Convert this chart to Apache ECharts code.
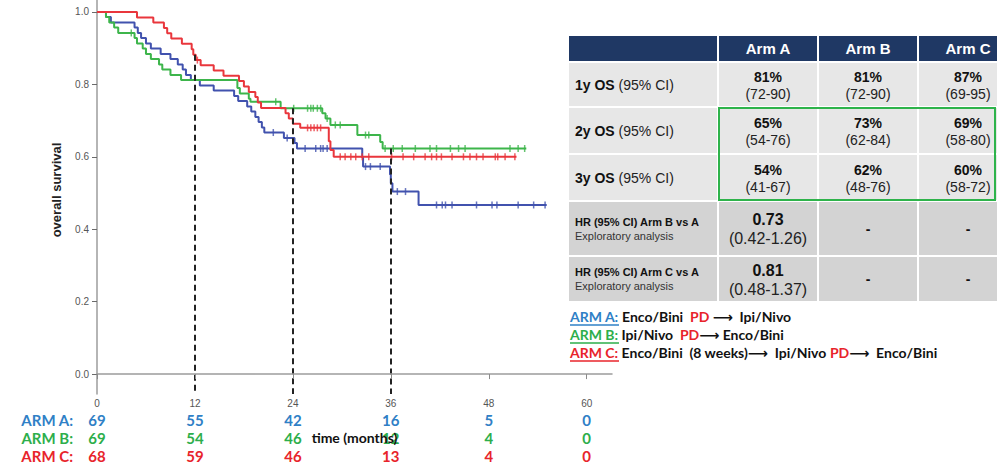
<!DOCTYPE html>
<html>
<head>
<meta charset="utf-8">
<script src="https://cdn.jsdelivr.net/npm/echarts@6/dist/echarts.min.js"></script>
<style>
  html, body { margin: 0; padding: 0; background: #ffffff; }
  #chart { width: 997px; height: 464px; }
</style>
</head>
<body>
<div id="chart"></div>
<script>
// Kaplan-Meier steps per arm: [month, overall survival after the step]
const armA = [[0,1],[1.1,0.986],[1.7,0.971],[4.6,0.957],[5.0,0.942],[5.4,0.928],[6.0,0.913],[6.6,0.899],[7.8,0.884],[9.0,0.870],[9.9,0.855],[10.5,0.841],[10.9,0.826],[11.5,0.812],[12.6,0.797],[14.3,0.783],[16.8,0.768],[17.3,0.754],[18.4,0.739],[18.9,0.725],[19.4,0.710],[19.8,0.696],[20.2,0.681],[20.5,0.667],[22.9,0.652],[24.2,0.638],[24.5,0.623],[32.5,0.598],[32.6,0.573],[35.9,0.551],[36.0,0.527],[36.2,0.504],[39.4,0.467],[55.1,0.467]];
const armB = [[0,1],[1.1,0.986],[1.5,0.971],[2.1,0.957],[2.6,0.942],[4.6,0.928],[4.9,0.913],[5.6,0.899],[6.0,0.884],[6.6,0.870],[7.6,0.855],[8.0,0.841],[9.0,0.826],[10.3,0.812],[17.2,0.790],[17.5,0.775],[18.6,0.760],[18.8,0.752],[22.5,0.734],[27.6,0.720],[28.0,0.706],[28.6,0.688],[31.9,0.660],[34.7,0.641],[35.0,0.623],[52.6,0.623]];
const armC = [[0,1],[4.9,0.985],[6.9,0.971],[8.2,0.956],[8.6,0.941],[9.1,0.927],[10.4,0.912],[11.6,0.897],[11.8,0.882],[12.1,0.867],[12.7,0.853],[14.3,0.838],[15.5,0.824],[17.4,0.809],[18.0,0.794],[18.6,0.779],[19.4,0.765],[19.7,0.750],[20.1,0.735],[23.1,0.720],[23.5,0.706],[24.0,0.691],[24.9,0.680],[28.4,0.643],[28.6,0.619],[29.0,0.600],[51.4,0.600]];

// Censoring times (months)
const censorA = [21.6,23.3,25.5,26.8,27.4,27.7,28.2,32.9,33.5,34.7,36.8,37.8,41.6,42.3,42.7,43.5,46.5,48.4,49.0,51.6,53.5,54.9];
const censorB = [4.2,21.9,24.1,25.8,26.2,26.5,27.0,27.4,28.2,29.2,29.8,32.9,33.3,35.3,36.3,37.4,39.0,40.8,41.6,43.3,44.3,45.1,50.6,51.6,52.4];
const censorC = [12.3,25.8,26.2,26.6,27.0,27.4,29.8,30.4,31.1,31.7,32.5,33.3,36.1,37.5,38.8,40.2,41.0,41.6,42.2,43.5,44.9,45.7,46.5,47.3,48.8,49.1,50.0,51.2];

// Landmark times marked with dashed lines
const landmarks = [12, 24, 36];

// Axis ticks
const timeTicks = [0, 12, 24, 36, 48, 60];
const survTicks = [0, 0.2, 0.4, 0.6, 0.8, 1.0];

// Numbers at risk
const riskLabels = ['ARM A:', 'ARM B:', 'ARM C:'];
const riskA = [69, 55, 42, 16, 5, 0];
const riskB = [69, 54, 46, 12, 4, 0];
const riskC = [68, 59, 46, 13, 4, 0];

// Summary table
const tableCols = ['Arm A', 'Arm B', 'Arm C'];
const osRowLabels = ['1y OS', '2y OS', '3y OS'];
const osValues = [[81, 81, 87], [65, 73, 69], [54, 62, 60]];
const osCI = [['72-90', '72-90', '69-95'], ['54-76', '62-84', '58-80'], ['41-67', '48-76', '58-72']];
const hrRowLabels = ['HR (95% CI) Arm B vs A', 'HR (95% CI) Arm C vs A'];
const hrSubLabel = 'Exploratory analysis';
const hrValues = ['0.73', '0.81'];
const hrCI = ['0.42-1.26', '0.48-1.37'];

// Treatment sequences: [arm, segments]
const schedules = [
  ['ARM A:', [['Enco/Bini  ', 'k'], ['PD', 'p'], [' \u27F6  Ipi/Nivo', 'k']]],
  ['ARM B:', [['Ipi/Nivo  ', 'k'], ['PD', 'p'], ['\u27F6 Enco/Bini', 'k']]],
  ['ARM C:', [['Enco/Bini  (8 weeks)\u27F6  Ipi/Nivo ', 'k'], ['PD', 'p'], ['\u27F6  Enco/Bini', 'k']]]
];

// ---------- styling ----------
const curveColors = ['#4152AE', '#3DB54B', '#E9363C'];
const textColors = ['#2F80C6', '#2DAE4B', '#E8242B'];
const Y_MIN = -0.055, Y_MAX = 1.033, X_MAX = 63.1;
const sans = '"Liberation Sans", Arial, sans-serif';
const cal = 'Lato, "Open Sans", sans-serif';

function survAt(steps, t) {
  let v = steps[0][1];
  for (const [time, s] of steps) { if (time <= t) v = s; else break; }
  return v;
}

const arms = [armA, armB, armC];
const censors = [censorA, censorB, censorC];
const risks = [riskA, riskB, riskC];

const series = [];
arms.forEach((steps, i) => {
  series.push({
    type: 'line', step: 'end', data: steps, showSymbol: false, symbol: 'none',
    lineStyle: { color: curveColors[i], width: 2 }, itemStyle: { color: curveColors[i] },
    z: 3, silent: true
  });
  series.push({
    type: 'scatter', data: censors[i].map(t => [t, survAt(steps, t)]),
    symbol: 'rect', symbolSize: [1.5, 7], itemStyle: { color: curveColors[i] },
    z: 4, silent: true
  });
});
// dashed landmark lines from the highest curve down to the time axis
series.push({
  type: 'line', data: [], silent: true,
  markLine: {
    silent: true, symbol: ['none', 'none'], label: { show: false },
    lineStyle: { color: '#222', width: 2, type: [6, 4] },
    data: landmarks.map(t => [
      { coord: [t, Math.max(...arms.map(a => survAt(a, t)))] },
      { coord: [t, Y_MIN] }
    ])
  }
});

const xAxes = [{
  type: 'value', min: 0, max: X_MAX,
  axisLine: { lineStyle: { color: '#9C9C9C', width: 1.5 } },
  axisTick: { customValues: timeTicks, length: 5, lineStyle: { color: '#8A8A8A' } },
  axisLabel: { customValues: timeTicks, fontSize: 10, color: '#555', margin: 4, fontFamily: sans },
  splitLine: { show: false },
  name: 'time (months)', nameLocation: 'middle', nameGap: 36,
  nameTextStyle: { fontFamily: cal, fontWeight: 'bold', fontSize: 14, color: '#111' },
  z: 5
}];
risks.forEach((r, i) => {
  xAxes.push({
    type: 'value', min: 0, max: X_MAX, position: 'bottom', offset: 26 + 18 * i,
    axisLine: { show: false }, axisTick: { show: false }, splitLine: { show: false },
    axisLabel: {
      customValues: timeTicks, margin: 0, verticalAlign: 'middle',
      formatter: v => String(r[timeTicks.indexOf(v)]),
      color: textColors[i], fontFamily: cal, fontWeight: 'bold', fontSize: 15
    },
    name: riskLabels[i], nameLocation: 'start', nameGap: 24,
    nameTextStyle: { color: textColors[i], fontFamily: cal, fontWeight: 'bold', fontSize: 15, verticalAlign: 'middle' }
  });
});

// ---------- summary table ----------
const tbl = {
  x: [569, 719, 819, 919], w: [148, 98, 98, 98],
  header: [36, 25],
  rows: [[63, 43], [108, 45], [155, 45], [202, 53], [257, 44]]
};
const graphics = [];
function rect(x, y, w, h, fill) {
  graphics.push({ type: 'rect', shape: { x, y, width: w, height: h }, style: { fill }, silent: true });
}
function text(x, y, t, opt) {
  graphics.push({ type: 'text', x, y, silent: true,
    style: Object.assign({ text: t, align: 'center', verticalAlign: 'middle', fill: '#111',
      fontFamily: sans, fontSize: 14 }, opt) });
}
// header
tbl.x.forEach((x, c) => rect(x, tbl.header[0], tbl.w[c], tbl.header[1], '#1F3864'));
tableCols.forEach((name, c) => text(tbl.x[c + 1] + 49, tbl.header[0] + 12.5, name,
  { fill: '#fff', fontWeight: 'bold', fontSize: 15 }));
// OS rows
osRowLabels.forEach((lab, r) => {
  const [y, h] = tbl.rows[r];
  tbl.x.forEach((x, c) => rect(x, y, tbl.w[c], h, '#E7E7E7'));
  const cy = y + h / 2;
  text(575, cy, '{b|' + lab + '} {n|(95% CI)}', { align: 'left',
    rich: { b: { fontFamily: sans, fontWeight: 'bold', fontSize: 14, fill: '#111' },
            n: { fontFamily: sans, fontSize: 14, fill: '#222' } } });
  osValues[r].forEach((v, c) => {
    const cx = tbl.x[c + 1] + 49;
    text(cx, cy - 8, v + '%', { fontWeight: 'bold' });
    text(cx, cy + 9, '(' + osCI[r][c] + ')', { fill: '#222' });
  });
});
// HR rows
hrRowLabels.forEach((lab, k) => {
  const [y, h] = tbl.rows[3 + k];
  tbl.x.forEach((x, c) => rect(x, y, tbl.w[c], h, '#D3D3D3'));
  const cy = y + h / 2;
  text(575, cy - 7, lab, { align: 'left', fontWeight: 'bold', fontSize: 11 });
  text(575, cy + 7, hrSubLabel, { align: 'left', fontSize: 11, fill: '#333' });
  const cx = tbl.x[1] + 49;
  text(cx, cy - 9, hrValues[k], { fontWeight: 'bold', fontSize: 16 });
  text(cx, cy + 10, '(' + hrCI[k] + ')', { fontSize: 16, fill: '#222' });
  text(tbl.x[2] + 49, cy, '-', { fontWeight: 'bold' });
  text(tbl.x[3] + 49, cy, '-', { fontWeight: 'bold' });
});
// highlight box around 2y / 3y OS values
graphics.push({ type: 'rect', silent: true,
  shape: { x: 719, y: 108, width: 276, height: 92 },
  style: { fill: 'none', stroke: '#2EB34B', lineWidth: 2 } });

// treatment sequences
schedules.forEach(([arm, segs], i) => {
  const y = 316 + 18 * i;
  let txt = '{a|' + arm + ' }';
  segs.forEach(([s, kind]) => { txt += '{' + kind + '|' + s + '}'; });
  graphics.push({ type: 'text', x: 570, y, silent: true,
    style: { text: txt, verticalAlign: 'middle', align: 'left',
      rich: {
        a: { fill: textColors[i], fontFamily: cal, fontWeight: 'bold', fontSize: 14 },
        k: { fill: '#111', fontFamily: cal + ', "DejaVu Sans"', fontWeight: 'bold', fontSize: 14 },
        p: { fill: '#E8242B', fontFamily: cal, fontWeight: 'bold', fontSize: 14 }
      } } });
  graphics.push({ type: 'line', silent: true,
    shape: { x1: 570, y1: y + 9, x2: 619, y2: y + 9 },
    style: { stroke: textColors[i], lineWidth: 1.5 } });
});

const chart = echarts.init(document.getElementById('chart'), null, { renderer: 'svg' });
chart.setOption({
  animation: false,
  backgroundColor: '#ffffff',
  grid: { left: 97, right: 385, top: 0, bottom: 70 },
  xAxis: xAxes,
  yAxis: {
    type: 'value', min: Y_MIN, max: Y_MAX,
    axisLine: { show: true, lineStyle: { color: '#9C9C9C', width: 1.5 } },
    axisTick: { show: true, customValues: survTicks, length: 5, lineStyle: { color: '#6A6A6A' } },
    axisLabel: { customValues: survTicks, formatter: v => v.toFixed(1), fontSize: 10, color: '#555', margin: 8, fontFamily: sans },
    splitLine: { show: false },
    name: 'overall survival', nameLocation: 'middle', nameGap: 34,
    nameTextStyle: { fontFamily: sans, fontWeight: 'bold', fontSize: 13, color: '#222', padding: [0, 0, 0, 14] }
  },
  series,
  graphic: graphics
});
</script>
</body>
</html>
